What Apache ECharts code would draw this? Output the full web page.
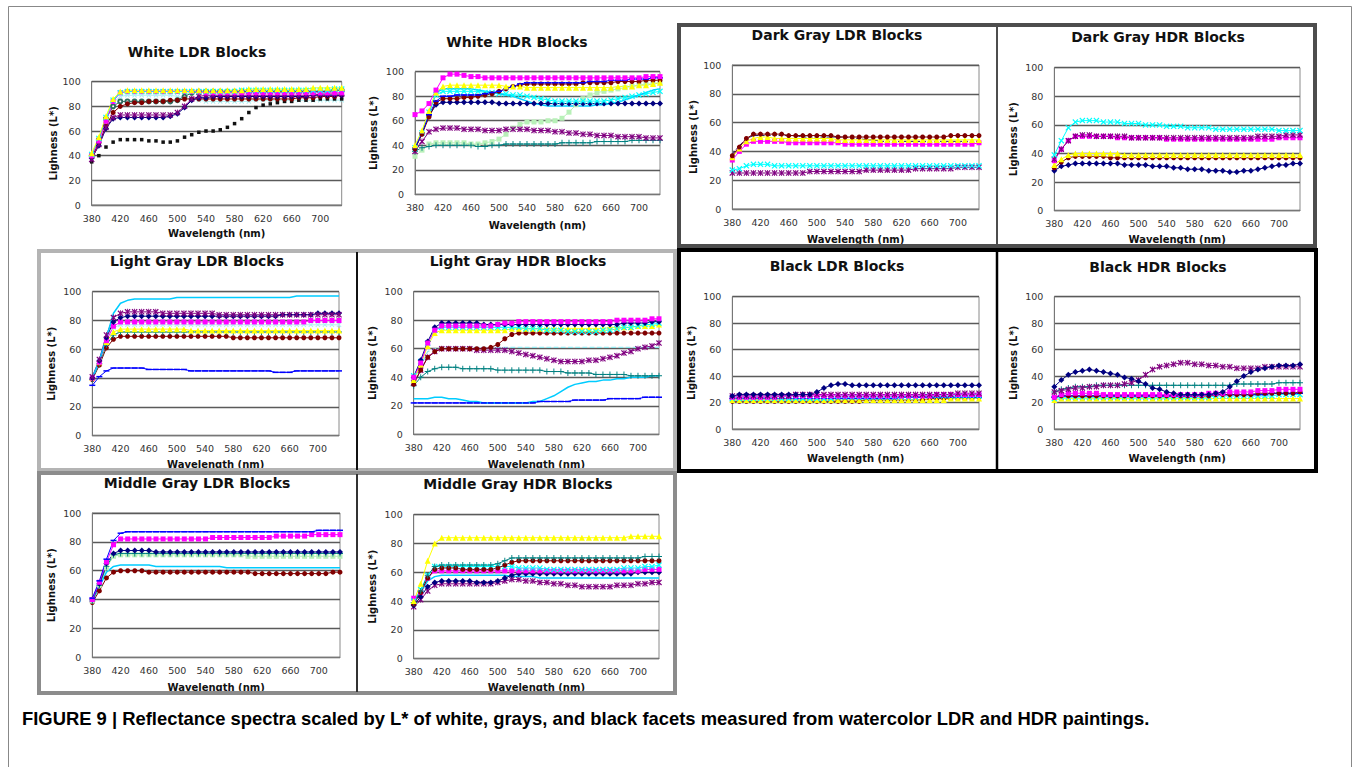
<!DOCTYPE html>
<html><head><meta charset="utf-8">
<script src="https://cdn.jsdelivr.net/npm/echarts/dist/echarts.min.js"></script>
<style>html,body{margin:0;padding:0;background:#fff;}#chart{width:1356px;height:767px;}</style>
</head><body><div id="chart"></div>
<script>
// ---------- DATA ----------
const wavelengths = [380,390,400,410,420,430,440,450,460,470,480,490,500,510,520,530,540,550,560,570,580,590,600,610,620,630,640,650,660,670,680,690,700,710,720,730];
const yTicks = [0,20,40,60,80,100];

// White LDR
const whiteLdrNavy     = [38,48,62,70,71,71, 71,71,71,71,71,72, 74,79,85,87,87,88, 88,88,88,88,88,88, 88,88,88,88,88,88, 88,89,89,89,89,89];
const whiteLdrMagenta  = [40,52,68,84,91,92, 92,92,92,92,92,92, 92,92,92,92,91,91, 91,91,91,91,91,91, 91,91,91,91,91,91, 91,91,91,91,91,91];
const whiteLdrYellow   = [42,55,72,86,92,93, 93,93,93,93,93,93, 93,93,93,93,93,93, 93,93,93,93,94,94, 94,94,94,94,94,94, 94,95,95,95,95,95];
const whiteLdrCyan     = [41,54,71,85,91,92, 92,92,92,92,92,92, 92,92,92,92,92,92, 92,92,92,93,93,93, 93,93,93,93,93,93, 93,93,93,93,94,94];
const whiteLdrPurple   = [37,49,63,71,73,73, 73,73,73,73,73,73, 75,80,86,88,89,89, 89,89,89,89,89,89, 89,89,89,89,89,89, 89,89,90,90,90,90];
const whiteLdrMaroon   = [39,50,64,75,80,82, 83,83,84,84,84,85, 85,86,86,86,86,86, 86,86,86,86,86,86, 86,86,86,86,86,87, 87,87,88,88,88,89];
const whiteLdrDarkTeal = [40,53,70,80,84,84, 84,84,84,84,84,84, 85,88,91,92,92,92, 92,92,92,92,92,92, 92,92,92,92,92,92, 92,92,92,92,93,93];
const whiteLdrPaleCyan = [40,52,69,83,88,89, 89,89,89,89,89,89, 88,87,86,85,84,84, 84,84,84,84,84,85, 85,85,85,85,85,85, 85,85,85,85,85,85];
const whiteLdrBlack    = [35,40,47,51,53,53, 53,53,52,52,51,51, 52,55,57,59,60,60, 61,63,66,70,75,79, 81,82,83,84,84,85, 85,85,86,86,86,86];

// White HDR
const whiteHdrNavy     = [37,50,64,73,75,75, 75,75,75,75,75,75, 74,74,74,74,74,74, 74,74,74,74,74,74, 74,74,74,74,74,74, 74,74,74,74,74,74];
const whiteHdrMagenta  = [65,68,74,85,95,98, 98,97,96,96,95,95, 95,95,95,95,95,95, 95,95,95,95,95,95, 95,95,95,95,95,95, 95,95,95,96,96,96];
const whiteHdrYellow   = [40,52,68,83,88,89, 89,89,89,89,89,89, 89,88,88,88,87,87, 87,87,87,87,87,87, 87,87,87,87,87,88, 88,88,89,89,90,91];
const whiteHdrCyan     = [38,50,67,81,84,84, 84,84,84,84,83,83, 82,82,81,81,80,79, 78,77,76,76,76,76, 76,76,76,76,77,78, 79,80,81,82,83,84];
const whiteHdrPurple   = [35,43,51,53,54,54, 54,53,53,53,52,52, 52,53,53,53,53,52, 52,52,51,51,50,50, 49,49,48,48,48,47, 47,47,47,46,46,46];
const whiteHdrMaroon   = [37,49,63,75,78,78, 78,79,79,80,81,82, 84,86,88,89,90,90, 90,90,90,90,90,90, 91,91,91,91,91,92, 92,92,92,93,93,93];
const whiteHdrTeal     = [35,38,39,40,40,40, 40,40,40,39,39,40, 40,41,41,41,41,41, 41,41,41,42,42,42, 42,42,43,43,43,43, 43,44,44,44,44,44];
const whiteHdrBlue     = [38,50,65,76,80,80, 81,81,81,81,82,83, 84,86,88,90,91,91, 91,91,91,91,91,91, 91,92,92,92,93,93, 93,94,94,94,95,95];
const whiteHdrSky      = [38,50,67,83,86,86, 86,86,86,85,84,83, 82,81,80,78,76,74, 73,72,72,72,72,72, 72,72,73,73,74,75, 77,79,81,83,85,86];
const whiteHdrGreen    = [31,36,41,42,42,42, 42,42,41,41,42,43, 45,49,54,57,59,59, 59,60,60,62,67,73, 78,81,83,84,85,86, 87,88,89,90,90,91];

// Dark Gray LDR
const darkLdrNavy      = [38,44,49,51,51,51, 51,51,51,51,50,50, 50,50,50,50,50,49, 49,48,48,47,47,47, 47,47,47,47,47,47, 47,47,47,47,47,47];
const darkLdrMagenta   = [34,40,45,47,47,47, 47,47,46,46,46,46, 46,46,46,46,45,45, 45,45,45,45,45,45, 45,45,45,45,45,45, 45,45,45,45,45,46];
const darkLdrYellow    = [36,42,47,49,50,50, 49,49,49,49,49,49, 49,49,49,48,48,48, 48,48,48,48,48,48, 48,48,48,48,48,48, 48,48,48,48,48,48];
const darkLdrCyan      = [27,28,30,31,31,31, 30,30,30,30,30,30, 30,30,30,30,30,30, 30,30,30,30,30,30, 30,30,30,30,30,30, 30,30,30,30,30,30];
const darkLdrPurple    = [25,25,25,25,25,25, 25,25,25,25,25,26, 26,26,26,26,26,26, 26,27,27,27,27,27, 27,27,28,28,28,28, 28,28,29,29,29,29];
const darkLdrMaroon    = [37,43,49,52,52,52, 52,52,51,51,51,51, 51,51,51,50,50,50, 50,50,50,50,50,50, 50,50,50,50,50,50, 50,51,51,51,51,51];

// Dark Gray HDR
const darkHdrNavy      = [28,31,32,33,33,33, 33,33,33,33,32,32, 32,32,31,31,31,30, 30,29,29,29,28,28, 28,27,27,28,28,29, 30,31,32,32,33,33];
const darkHdrMagenta   = [35,43,49,52,52,52, 52,52,52,51,51,51, 51,51,51,51,50,50, 50,50,50,50,50,50, 50,50,50,50,50,50, 50,50,51,51,51,51];
const darkHdrYellow    = [32,36,39,40,40,40, 40,40,40,40,39,39, 39,39,39,39,39,39, 39,39,39,39,39,39, 39,39,39,39,39,39, 39,39,39,39,39,39];
const darkHdrCyan      = [39,49,58,62,63,63, 63,62,62,62,61,61, 61,60,60,60,59,59, 59,58,58,58,58,57, 57,57,57,57,57,57, 57,57,56,56,56,56];
const darkHdrPurple    = [36,43,49,52,53,53, 52,52,52,52,52,51, 51,51,51,51,51,51, 51,51,51,51,51,51, 51,51,51,51,51,52, 52,52,52,53,53,53];
const darkHdrMaroon    = [30,34,37,38,38,38, 38,38,37,37,37,37, 37,37,37,37,37,37, 37,37,37,37,37,37, 37,37,37,37,37,37, 37,37,37,37,37,37];

// Light Gray LDR
const lightLdrSky      = [40,52,68,85,92,94, 95,95,95,95,95,95, 96,96,96,96,96,96, 96,96,96,96,96,96, 96,96,96,96,96,97, 97,97,97,97,97,97];
const lightLdrPurple   = [41,53,70,82,85,86, 86,86,86,86,85,85, 85,85,85,85,85,85, 84,84,84,84,84,84, 84,84,84,84,84,84, 84,84,84,84,84,84];
const lightLdrNavy     = [40,52,68,79,82,83, 83,83,83,83,83,83, 83,83,83,83,83,83, 83,83,83,83,83,83, 83,83,83,84,84,84, 84,84,85,85,85,85];
const lightLdrMagenta  = [40,51,66,76,79,79, 79,79,79,79,79,79, 79,79,79,79,79,79, 79,79,79,79,79,79, 79,79,79,79,79,79, 79,80,80,80,80,80];
const lightLdrPaleCyan = [41,52,67,75,77,77, 77,77,77,77,77,77, 77,77,77,77,77,77, 77,77,77,77,77,77, 77,77,77,77,77,77, 77,77,77,77,77,77];
const lightLdrYellow   = [40,51,65,72,74,74, 74,74,74,74,74,74, 74,74,73,73,73,73, 73,73,73,73,73,73, 73,73,73,73,73,73, 73,73,73,73,73,73];
const lightLdrTeal     = [39,50,63,70,72,72, 72,72,72,72,72,72, 72,72,72,72,72,72, 72,72,72,72,72,72, 72,72,72,72,72,72, 72,72,72,72,72,72];
const lightLdrMaroon   = [39,49,61,67,69,69, 69,69,69,69,69,69, 69,69,69,69,69,69, 69,69,68,68,68,68, 68,68,68,68,68,68, 68,68,68,68,68,68];
const lightLdrBlue     = [35,41,45,47,47,47, 47,47,46,46,46,46, 46,46,45,45,45,45, 45,45,45,45,45,45, 45,45,44,44,44,45, 45,45,45,45,45,45];

// Light Gray HDR
const lightHdrNavy     = [40,52,65,75,78,78, 78,78,78,78,77,77, 77,77,77,77,77,77, 77,77,77,77,77,77, 77,77,77,77,77,77, 78,78,78,78,79,79];
const lightHdrMagenta  = [40,50,64,73,76,76, 76,76,76,76,76,76, 77,78,78,79,79,79, 79,79,79,79,79,79, 79,79,79,79,79,80, 80,80,80,80,81,81];
const lightHdrYellow   = [38,49,62,71,73,73, 73,73,73,73,73,73, 73,73,74,74,74,74, 74,74,74,74,74,74, 74,74,74,74,75,75, 75,75,76,76,76,77];
const lightHdrCyan     = [41,51,64,73,75,75, 75,75,75,75,75,75, 75,75,75,75,74,74, 74,73,73,73,72,72, 72,72,72,73,73,74, 75,75,76,77,77,78];
const lightHdrPurple   = [36,45,54,58,60,60, 60,60,60,59,59,59, 59,59,58,57,56,55, 54,53,52,51,51,51, 51,52,52,53,54,55, 57,58,60,61,62,64];
const lightHdrMaroon   = [35,45,54,58,60,60, 60,60,60,60,60,61, 63,67,70,71,71,71, 71,71,71,71,71,71, 71,71,71,71,71,71, 71,71,71,71,71,71];
const lightHdrTeal     = [34,40,44,46,47,47, 47,46,46,46,46,46, 45,45,45,45,45,45, 45,44,44,44,43,43, 43,43,42,42,42,42, 42,41,41,41,41,41];
const lightHdrPaleCyan = [38,48,58,60,61,61, 61,61,61,61,61,61, 61,61,61,61,61,61, 61,61,61,61,61,61, 61,61,61,61,61,61, 61,61,61,61,61,61];
const lightHdrSky      = [25,25,25,26,26,25, 25,24,23,23,22,22, 22,22,22,22,22,23, 23,25,27,30,33,35, 36,37,37,38,38,39, 39,40,40,40,41,41];
const lightHdrBlue     = [22,22,22,22,22,22, 22,22,22,22,22,22, 22,22,22,22,22,22, 23,23,23,23,23,24, 24,24,24,24,25,25, 25,25,25,26,26,26];

// Black LDR
const blackLdrNavy     = [25,26,26,26,26,26, 26,26,26,26,26,26, 28,31,33,34,34,33, 33,33,33,33,33,33, 33,33,33,33,33,33, 33,33,33,33,33,33];
const blackLdrMagenta  = [24,24,24,24,24,24, 24,25,25,25,25,25, 25,25,25,25,25,25, 25,25,25,25,25,25, 25,25,25,25,25,26, 26,26,26,26,26,26];
const blackLdrYellow   = [22,22,22,22,22,22, 22,22,22,22,22,22, 22,22,22,22,22,22, 22,22,22,22,22,22, 22,22,22,22,22,22, 22,23,23,23,23,23];
const blackLdrCyan     = [23,23,23,23,23,23, 23,23,23,23,23,23, 23,23,23,24,24,24, 24,24,24,24,24,24, 24,24,24,25,25,25, 25,25,25,25,25,25];
const blackLdrPurple   = [25,25,25,25,25,25, 25,25,25,26,26,26, 26,26,26,26,26,26, 26,26,26,26,26,26, 26,26,26,26,26,26, 26,26,27,27,27,27];
const blackLdrMaroon   = [21,21,21,21,21,21, 21,21,21,21,21,21, 21,21,21,21,21,21, 21,22,22,22,22,22, 22,22,22,22,23,23, 23,23,23,23,23,24];
const blackLdrBlue     = [23,23,23,23,23,23, 23,23,23,23,23,23, 23,23,23,23,23,23, 23,23,23,23,23,23, 24,24,24,24,24,24, 24,24,24,24,24,24];

// Black HDR
const blackHdrNavy     = [32,37,41,43,44,45, 44,43,42,41,39,38, 36,34,31,30,28,27, 26,26,26,26,26,27, 28,32,36,40,43,45, 46,47,48,48,48,49];
const blackHdrPurple   = [28,29,30,31,31,32, 32,33,33,33,34,35, 37,41,45,47,48,49, 50,50,49,49,48,48, 47,47,46,46,46,46, 47,47,47,47,47,47];
const blackHdrTeal     = [28,30,31,32,32,32, 33,33,33,33,33,33, 33,33,33,33,33,33, 33,33,33,33,33,33, 33,33,34,34,34,34, 34,34,35,35,35,35];
const blackHdrMagenta  = [24,26,27,27,27,27, 27,26,26,26,26,26, 26,26,26,26,26,26, 26,26,26,26,27,27, 27,28,28,28,28,29, 29,29,30,30,30,30];
const blackHdrMaroon   = [24,25,25,25,25,25, 25,25,25,25,25,25, 25,25,25,25,25,25, 25,25,25,25,25,26, 26,26,26,26,26,27, 27,27,27,27,27,28];
const blackHdrCyan     = [23,24,24,24,24,24, 24,24,24,24,24,24, 24,24,24,24,24,24, 24,24,24,24,24,25, 25,25,25,25,25,25, 25,25,26,26,26,26];
const blackHdrYellow   = [22,23,23,23,23,23, 23,23,23,23,23,23, 23,23,23,23,23,23, 23,23,23,23,23,23, 23,23,23,23,23,23, 23,23,23,23,23,23];
const blackHdrBlue     = [24,25,25,25,25,25, 25,25,25,25,25,25, 25,25,25,25,25,25, 25,25,25,26,26,26, 26,26,26,26,26,26, 26,27,27,27,27,27];

// Middle Gray LDR
const midLdrBlue       = [41,53,68,81,86,87, 87,87,87,87,87,87, 87,87,87,87,87,87, 87,87,87,87,87,87, 87,87,87,87,87,87, 87,87,88,88,88,88];
const midLdrMagenta    = [40,52,66,78,82,82, 82,82,82,82,82,82, 82,82,82,82,82,83, 83,83,83,83,83,83, 83,83,84,84,84,84, 84,85,85,85,85,85];
const midLdrNavy       = [40,51,65,72,74,74, 74,74,74,73,73,73, 73,73,73,73,73,73, 73,73,73,73,73,73, 73,73,73,73,73,73, 73,73,73,73,73,73];
const midLdrTeal       = [39,50,63,71,72,72, 72,72,72,72,72,72, 72,72,72,72,72,72, 72,72,72,72,72,72, 72,72,72,72,72,72, 72,72,72,72,72,72];
const midLdrGreen      = [39,50,62,70,71,71, 71,71,71,71,71,71, 71,71,71,71,71,71, 71,71,71,71,70,70, 70,70,70,70,70,70, 70,70,70,70,70,70];
const midLdrSky        = [39,49,59,63,64,64, 64,64,64,63,63,63, 63,63,63,63,63,63, 63,62,62,62,62,62, 62,62,62,62,62,62, 62,62,62,62,62,62];
const midLdrMaroon     = [38,46,55,59,60,60, 60,60,59,59,59,59, 59,59,59,59,59,59, 59,59,59,59,59,58, 58,58,58,58,58,58, 58,58,58,58,59,59];

// Middle Gray HDR
const midHdrYellow     = [40,52,68,80,84,84, 84,84,84,84,84,84, 84,84,84,84,84,84, 84,84,84,84,84,84, 84,84,84,84,84,84, 84,85,85,85,85,85];
const midHdrTeal       = [39,47,58,64,65,65, 65,65,65,65,65,65, 66,68,70,70,70,70, 70,70,70,70,70,70, 70,70,70,70,70,70, 70,70,70,71,71,71];
const midHdrMaroon     = [38,46,56,62,63,63, 63,62,62,62,62,62, 63,65,67,68,68,68, 68,68,68,68,68,68, 68,68,68,68,68,68, 68,68,68,68,68,68];
const midHdrCyan       = [40,48,58,64,64,64, 64,64,64,64,64,64, 64,64,64,63,63,63, 63,62,62,62,62,62, 62,62,62,62,62,62, 63,63,63,64,64,65];
const midHdrMagenta    = [42,46,56,61,61,61, 61,61,61,61,61,61, 61,61,61,61,61,61, 61,61,61,61,61,61, 61,61,61,61,61,61, 61,61,61,62,62,62];
const midHdrNavy       = [37,43,50,53,54,54, 54,54,54,53,53,53, 54,56,58,59,59,59, 59,59,59,59,59,59, 59,59,59,59,59,59, 59,59,60,60,60,60];
const midHdrSky        = [38,46,54,57,58,58, 58,58,58,58,58,58, 58,58,57,57,57,57, 56,56,56,56,56,56, 56,56,56,56,56,56, 56,56,56,56,56,56];
const midHdrPurple     = [36,41,47,51,52,52, 52,52,52,52,52,52, 53,54,55,55,54,54, 53,53,52,52,51,51, 50,50,50,50,50,51, 51,51,52,52,53,53];

const titles = ['White LDR Blocks','White HDR Blocks','Dark Gray LDR Blocks','Dark Gray HDR Blocks',
  'Light Gray LDR Blocks','Light Gray HDR Blocks','Black LDR Blocks','Black HDR Blocks',
  'Middle Gray LDR Blocks','Middle Gray HDR Blocks'];
const xName = 'Wavelength (nm)';
const yName = 'Lighness (L*)';
const caption = 'FIGURE 9 | Reflectance spectra scaled by L* of white, grays, and black facets measured from watercolor LDR and HDR paintings.';

const panelSeries = [
  [['paleCyan',whiteLdrPaleCyan],['black',whiteLdrBlack],['darkTeal',whiteLdrDarkTeal],['maroon',whiteLdrMaroon],['navy',whiteLdrNavy],['purple',whiteLdrPurple],['magenta',whiteLdrMagenta],['cyan',whiteLdrCyan],['yellow',whiteLdrYellow]],
  [['green',whiteHdrGreen],['teal',whiteHdrTeal],['purple',whiteHdrPurple],['navy',whiteHdrNavy],['cyan',whiteHdrCyan],['sky',whiteHdrSky],['maroon',whiteHdrMaroon],['blue',whiteHdrBlue],['yellow',whiteHdrYellow],['magenta',whiteHdrMagenta]],
  [['purple',darkLdrPurple],['cyan',darkLdrCyan],['darkDash',darkLdrNavy],['magenta',darkLdrMagenta],['yellow',darkLdrYellow],['maroon',darkLdrMaroon]],
  [['navy',darkHdrNavy],['maroon',darkHdrMaroon],['yellow',darkHdrYellow],['magenta',darkHdrMagenta],['purple',darkHdrPurple],['cyan',darkHdrCyan]],
  [['blue',lightLdrBlue],['maroon',lightLdrMaroon],['teal',lightLdrTeal],['yellow',lightLdrYellow],['paleCyan',lightLdrPaleCyan],['magenta',lightLdrMagenta],['navy',lightLdrNavy],['purple',lightLdrPurple],['sky',lightLdrSky]],
  [['blue',lightHdrBlue],['sky',lightHdrSky],['teal',lightHdrTeal],['paleDash',lightHdrPaleCyan],['purple',lightHdrPurple],['maroon',lightHdrMaroon],['yellow',lightHdrYellow],['cyan',lightHdrCyan],['navy',lightHdrNavy],['magenta',lightHdrMagenta]],
  [['maroon',blackLdrMaroon],['yellow',blackLdrYellow],['blue',blackLdrBlue],['cyan',blackLdrCyan],['magenta',blackLdrMagenta],['purple',blackLdrPurple],['navy',blackLdrNavy]],
  [['yellow',blackHdrYellow],['cyan',blackHdrCyan],['blue',blackHdrBlue],['maroon',blackHdrMaroon],['magenta',blackHdrMagenta],['teal',blackHdrTeal],['purple',blackHdrPurple],['navy',blackHdrNavy]],
  [['maroon',midLdrMaroon],['sky',midLdrSky],['green',midLdrGreen],['teal',midLdrTeal],['navy',midLdrNavy],['magenta',midLdrMagenta],['blue',midLdrBlue]],
  [['purple',midHdrPurple],['sky',midHdrSky],['navy',midHdrNavy],['magenta',midHdrMagenta],['cyan',midHdrCyan],['maroon',midHdrMaroon],['teal',midHdrTeal],['yellow',midHdrYellow]]
];

// ---------- LAYOUT / STYLE ----------
const layout = [
  {tx:197, ty:51.5, l:91.7, t:81.7, w:250, h:123.3, xg:23, yg:33.7},
  {tx:517, ty:41.7, l:415, t:71.7, w:245, h:122.6, xg:26, yg:37},
  {tx:837, ty:35, l:732.3, t:65, w:246.7, h:144, xg:25, yg:34},
  {tx:1158, ty:37, l:1054.3, t:67.7, w:245.7, h:143, xg:24, yg:36},
  {tx:197, ty:261, l:92.3, t:291.7, w:246.7, h:144, xg:24, yg:35.6},
  {tx:518, ty:261, l:413.7, t:291.7, w:245.3, h:142.6, xg:25, yg:36},
  {tx:837, ty:266, l:732.3, t:296.7, w:246.7, h:132.3, xg:24, yg:35.6},
  {tx:1158, ty:267, l:1054.3, t:296.7, w:245.7, h:132.3, xg:24, yg:36},
  {tx:197, ty:483, l:92.3, t:513, w:247.7, h:144.3, xg:25, yg:35.6},
  {tx:518, ty:484, l:413.7, t:514.7, w:245.3, h:144, xg:24, yg:36}
];
const X_PATH = 'path://M0,1.4L1.4,0L5,3.6L8.6,0L10,1.4L6.4,5L10,8.6L8.6,10L5,6.4L1.4,10L0,8.6L3.6,5Z';
const STAR_PATH = 'path://M0,1.4L1.4,0L4.3,2.9V0H5.7V2.9L8.6,0L10,1.4L6.4,5L10,8.6L8.6,10L5.7,7.1V10H4.3V7.1L1.4,10L0,8.6L3.6,5Z';
const PLUS_PATH = 'path://M4.2,0H5.8V4.2H10V5.8H5.8V10H4.2V5.8H0V4.2H4.2Z';
const DASH_PATH = 'path://M0,0H10V2H0Z';
const STYLE = {
  navy:{color:'#000080', symbol:'diamond', size:6},
  magenta:{color:'#FF00FF', symbol:'rect', size:5},
  yellow:{color:'#FFFF00', symbol:'triangle', size:6},
  cyan:{color:'#00FFFF', symbol:X_PATH, size:6},
  purple:{color:'#800080', symbol:STAR_PATH, size:6},
  maroon:{color:'#800000', symbol:'circle', size:5},
  teal:{color:'#008080', symbol:PLUS_PATH, size:6},
  blue:{color:'#0000FF', symbol:DASH_PATH, size:[6,1.5]},
  sky:{color:'#00CCFF', symbol:'none', lw:1.5},
  green:{color:'#B8F0B8', symbol:'rect', size:5},
  paleCyan:{color:'#AEEFF2', symbol:X_PATH, size:5},
  paleDash:{color:'#8FE8EE', symbol:'none', dashed:true, lw:1.2},
  darkTeal:{color:'#2E6B5E', symbol:'emptyCircle', size:4},
  black:{color:'#111111', symbol:'rect', size:3.5, noLine:true},
  darkDash:{color:'#1a1a60', symbol:'none', dashed:true}
};
const FONT = '"DejaVu Sans", Verdana, sans-serif';

function makeSeries(key, data, gi){
  const s = STYLE[key];
  return {
    type:'line', xAxisIndex:gi, yAxisIndex:gi, data:data, animation:false, silent:true,
    symbol:s.symbol, symbolSize:s.size || 5, showSymbol:s.symbol !== 'none', showAllSymbol:true,
    lineStyle:{color:s.color, width:s.noLine ? 0 : (s.lw || 1), opacity:s.noLine ? 0 : 1, type:s.dashed ? 'dashed' : 'solid'},
    itemStyle:{color:s.color, borderWidth:0},
    emphasis:{disabled:true}
  };
}

const grids = [], xAxes = [], yAxes = [], series = [], graphics = [];
layout.forEach((p, i) => {
  grids.push({left:p.l, top:p.t, width:p.w, height:p.h, show:true, borderColor:'#8a8a8a', borderWidth:1,
    backgroundColor:'#ffffff', containLabel:false, outerBoundsMode:'none'});
  xAxes.push({type:'category', gridIndex:i, data:wavelengths, boundaryGap:false,
    axisLine:{show:true, lineStyle:{color:'#777', width:1}}, axisTick:{show:false},
    axisLabel:{interval:3, fontSize:9.5, color:'#333', fontFamily:FONT, margin:8},
    splitLine:{show:false},
    name:xName, nameLocation:'middle', nameGap:p.xg,
    nameTextStyle:{fontFamily:FONT, fontWeight:'bold', fontSize:10, color:'#111'}});
  yAxes.push({type:'value', gridIndex:i, min:yTicks[0], max:yTicks[yTicks.length-1], interval:yTicks[1]-yTicks[0],
    axisLine:{show:true, lineStyle:{color:'#777', width:1}}, axisTick:{show:false},
    axisLabel:{fontSize:9.5, color:'#333', fontFamily:FONT, margin:11},
    splitLine:{show:true, lineStyle:{color:'#5a5a5a', width:1.3}},
    name:yName, nameLocation:'middle', nameGap:p.yg, nameRotate:90,
    nameTextStyle:{fontFamily:FONT, fontWeight:'bold', fontSize:10, color:'#111'}});
  panelSeries[i].forEach(([k, d]) => {
    series.push(makeSeries(k, d, i));
  });
  graphics.push({type:'text', x:p.tx, y:p.ty, z:10, style:{text:titles[i], fill:'#111',
    fontFamily:FONT, fontWeight:'bold', fontSize:14, align:'center', verticalAlign:'middle',
    textAlign:'center', textVerticalAlign:'middle'}});
});

function box(x, y, w, h, color, lw){
  return {type:'rect', z:20, shape:{x:x, y:y, width:w, height:h}, style:{fill:'none', stroke:color, lineWidth:lw}};
}
function vline(x, y1, y2, color, lw){
  return {type:'line', z:20, shape:{x1:x, y1:y1, x2:x, y2:y2}, style:{stroke:color, lineWidth:lw}};
}
graphics.push(
  {type:'line', z:1, shape:{x1:8.5, y1:6.5, x2:1351.5, y2:6.5}, style:{stroke:'#888', lineWidth:1}},
  {type:'line', z:1, shape:{x1:8.5, y1:6.5, x2:8.5, y2:767}, style:{stroke:'#888', lineWidth:1}},
  {type:'line', z:1, shape:{x1:1351.5, y1:6.5, x2:1351.5, y2:767}, style:{stroke:'#888', lineWidth:1}},
  box(39, 251, 636, 219, '#b4b4b4', 4),
  box(39, 473, 636, 220, '#8c8c8c', 4),
  vline(357, 252, 470, '#111', 2),
  vline(357, 474, 692, '#333', 2),
  box(679, 25, 636, 221, '#4d4d4d', 4),
  vline(997, 26, 245, '#4d4d4d', 2),
  box(679, 250, 637, 221, '#000', 4),
  vline(997, 251, 470, '#000', 2.5),
  {type:'text', x:22, y:718, z:10, style:{text:caption, fill:'#000', fontFamily:'"Liberation Sans", Arial, sans-serif',
    fontWeight:'bold', fontSize:18.4, align:'left', verticalAlign:'middle', textAlign:'left', textVerticalAlign:'middle'}}
);

const chart = echarts.init(document.getElementById('chart'), null, {renderer:'svg', width:1356, height:767});
chart.setOption({
  animation:false, backgroundColor:'#ffffff',
  grid:grids, xAxis:xAxes, yAxis:yAxes, series:series, graphic:graphics
});
</script>
</body></html>
